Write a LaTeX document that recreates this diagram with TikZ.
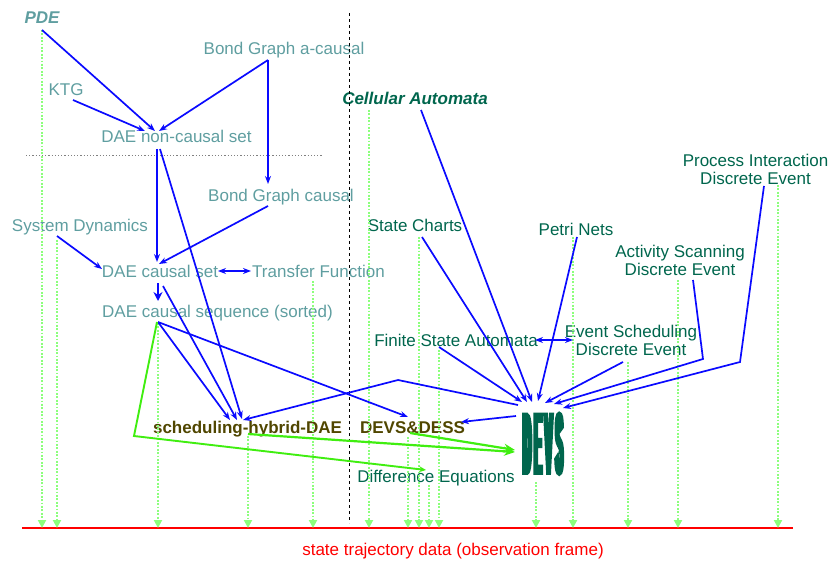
\documentclass[tikz,border=0pt]{standalone}
\usepackage{fontspec}
\setmainfont{Liberation Sans}
\newfontfamily\devsfont[FakeStretch=0.125,FakeBold=4.5]{Liberation Sans}
\usetikzlibrary{arrows.meta,calc}
\definecolor{teal1}{HTML}{5F9EA0}
\definecolor{dkg}{HTML}{00664D}
\definecolor{oliv}{HTML}{504600}
\definecolor{gline}{HTML}{40EE10}
\definecolor{gdot}{HTML}{8CFF7C}
\definecolor{arrblue}{HTML}{0A0AFF}
\tikzset{
 lbl/.style={inner sep=0pt, anchor=base, font=\fontsize{17}{18}\selectfont},
 cont/.style={lbl, text=teal1},
 disc/.style={lbl, text=dkg},
 bi/.style={font=\fontsize{17}{18}\selectfont\bfseries\itshape},
 hyb/.style={lbl, text=oliv, font=\fontsize{17}{18}\selectfont\bfseries},
 ml/.style={inner sep=0pt, anchor=north, align=center, text=dkg, font=\fontsize{17}{18}\selectfont},
 arr/.style={draw=arrblue, line width=1.7pt, -{Stealth[length=8pt,width=6pt]}},
 darr/.style={draw=arrblue, line width=1.7pt, {Stealth[length=8pt,width=6pt]}-{Stealth[length=8pt,width=6pt]}},
 thickarr/.style={draw=arrblue, line width=2.8pt, -{Stealth[length=9pt,width=9pt]}},
 garr/.style={draw=gline, line width=2.2pt, -{Stealth[length=11pt,width=9pt]}},
 gsmall/.style={draw=gline, line width=1.9pt, -{Stealth[length=7pt,width=6pt]}},
 obs/.style={draw=gdot, line width=2.3pt, dash pattern=on 1.8pt off 1.6pt, -{Triangle[length=8pt,width=8pt]}}
}
\begin{document}
\begin{tikzpicture}[x=1pt,y=-1pt]
\useasboundingbox (0,0) rectangle (829,561);
% texts
\node[cont,bi] (pde) at (42,24) {PDE};
\node[cont] (bga) at (284,55) {Bond Graph a-causal};
\node[cont] (ktg) at (66,96) {KTG};
\node[cont] (dnc) at (176.5,143) {DAE non-causal set};
\node[cont] (bgc) at (281,202) {Bond Graph causal};
\node[cont] (sd) at (80,232) {System Dynamics};
\node[cont] (dcs) at (160,277) {DAE causal set};
\node[cont] (tf) at (318.5,277) {Transfer Function};
\node[cont] (dseq) at (217.5,317) {DAE causal sequence (sorted)};
\node[disc,bi] (ca) at (415,105) {Cellular Automata};
\node[disc] (sc) at (415,232) {State Charts};
\node[disc] (pn) at (576,236) {Petri Nets};
\node[ml] (as) at (680,244.7) {Activity Scanning\\Discrete Event};
\node[ml] (pi) at (755.5,153.7) {Process Interaction\\Discrete Event};
\node[disc] (fsa) at (456,346) {Finite State Automata};
\node[ml] (es) at (631,324.7) {Event Scheduling\\Discrete Event};
\node[hyb] (shd) at (247.5,433) {scheduling-hybrid-DAE};
\node[hyb] (dd) at (412.5,433) {DEVS\&DESS};
\node[disc] (de) at (436,482) {Difference Equations};
\node[inner sep=0pt, anchor=base, text=dkg, font=\devsfont\fontsize{85}{85}\selectfont] (devs) at (543,473) {D\kern3.5pt E\kern3.5pt V\kern3.5pt S};
\node[lbl, text=red] (std) at (453,555) {state trajectory data (observation frame)};
% separators
\draw[gray, line width=0.8pt, dash pattern=on 1.2pt off 2pt] (26,155) -- (323,155);
\draw[black, line width=0.8pt, dash pattern=on 3pt off 3pt] (349,13) -- (349,523);
\draw[red, line width=1.1pt] (22,528) -- (793,528);
\coordinate (rl) at (0,528);
% observation arrows
\foreach \n/\dx/\dy in {pde.base/0/6, sd.base/-23/8, dseq.base/-59.5/6, shd.base/0.5/3, tf.base/-5.5/4, ca.base/-46/5, dd.base/-4.5/4, sc.base/4/5, de.base/-7/3, fsa.base/-17/4, devs.base/-7/9, pn.base/-3/1, es.north/-3/37.3, as.north/-2/35.3, pi.north/22.5/31.3}
{\path ($(\n)+(\dx,\dy)$) coordinate (t); \draw[obs] (t) -- (t |- rl);}
% blue connectors
\draw[arr] ($(pde.base)+(0,6)$) -- ($(dnc.base)+(-21.5,-12)$);
\draw[arr] ($(ktg.base)+(7,4)$) -- ($(dnc.base)+(-31.5,-12)$);
\draw[arr] ($(bga.base)+(-16,5)$) -- ($(dnc.base)+(-17.5,-12)$);
\draw[arr] ($(bga.base)+(-16,5)$) -- ($(bgc.base)+(-13,-18)$);
\draw[arr] ($(dnc.base)+(-19.5,6)$) -- ($(dcs.base)+(-3,-15)$);
\draw[arr] ($(dnc.base)+(-16.5,6)$) -- ($(shd.base)+(-5.5,-14)$);
\draw[arr] ($(bgc.base)+(-13,4)$) -- ($(dcs.base)+(-1,-13)$);
\draw[arr] ($(sd.base)+(-23,4)$) -- ($(dcs.base)+(-58,-8)$);
\draw[darr] ($(dcs.base)+(58,-6)$) -- ($(tf.base)+(-67.5,-6)$);
\draw[thickarr] ($(dcs.base)+(-2,6)$) -- ($(dseq.base)+(-59.5,-16)$);
\draw[arr] ($(dcs.base)+(3,9)$) -- ($(shd.base)+(-10.5,-13)$);
\draw[arr] ($(dseq.base)+(-59.5,5)$) -- ($(shd.base)+(-17.5,-13)$);
\draw[arr] ($(dseq.base)+(-59.5,5)$) -- ($(dd.base)+(-4.5,-16)$);
\draw[arr] ($(devs.base)+(-27,-57)$) -- ($(dd.base)+(48.5,-11)$);
\coordinate (b1) at (398,380);
\draw[arr] ($(devs.base)+(-25,-68)$) -- (b1) -- ($(shd.base)+(-4.5,-13)$);
\draw[arr] ($(fsa.base)+(-17,1)$) -- ($(devs.base)+(-21,-71)$);
\draw[arr] ($(sc.base)+(7,5)$) -- ($(devs.base)+(-16,-71)$);
\draw[arr] ($(ca.base)+(6,5)$) -- ($(devs.base)+(-11,-71)$);
\draw[arr] ($(pn.base)+(1,1)$) -- ($(devs.base)+(-5,-72)$);
\draw[darr] ($(fsa.base)+(79,-6)$) -- ($(es.north)+(-58,15.3)$);
\draw[arr] ($(es.north)+(-8,37.3)$) -- ($(devs.base)+(2,-70)$);
\coordinate (b2) at (703,359);
\draw[arr] ($(as.north)+(13,35.3)$) -- (b2) -- ($(devs.base)+(11,-69)$);
\coordinate (b3) at (740,362);
\draw[arr] ($(pi.north)+(8.5,32.3)$) -- (b3) -- ($(devs.base)+(20,-65)$);
% green connectors
\coordinate (b4) at (134,436);
\draw[gsmall] ($(dseq.base)+(-60.5,5)$) -- (b4) -- ($(de.base)+(-10,-12)$);
\draw[garr] ($(shd.base)+(0.5,1)$) -- ($(devs.base)+(-28,-21)$);
\draw[garr] ($(dd.base)+(-2.5,0)$) -- ($(devs.base)+(-28,-23)$);
\end{tikzpicture}
\end{document}
